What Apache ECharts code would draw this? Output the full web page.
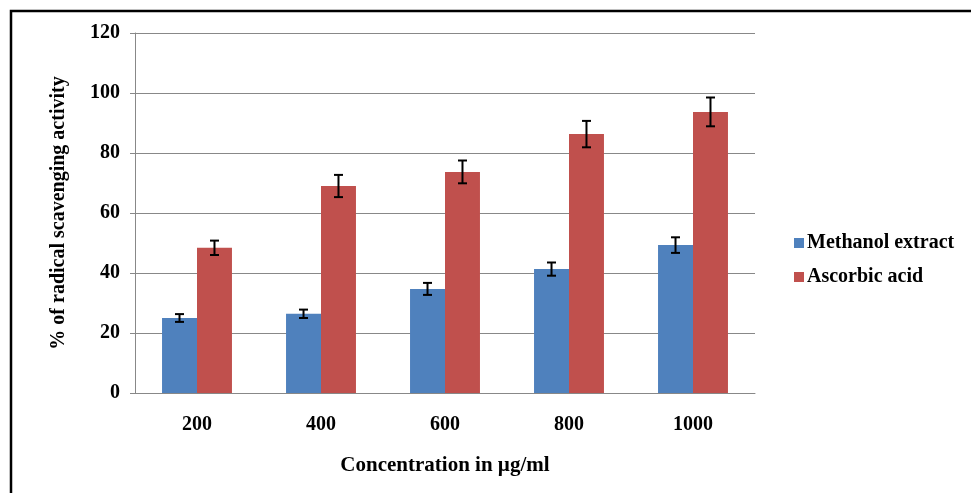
<!DOCTYPE html>
<html>
<head>
<meta charset="utf-8">
<script src="https://cdn.jsdelivr.net/npm/echarts@6/dist/echarts.min.js"></script>
<style>html,body{margin:0;padding:0;background:#fff;}#chart{width:971px;height:493px;}</style>
</head>
<body>
<div id="chart"></div>
<script>
var categories = ['200', '400', '600', '800', '1000'];
var methanolValues = [25.0, 26.4, 34.7, 41.3, 49.3];
var methanolErrors = [1.3, 1.4, 2.0, 2.2, 2.6];
var ascorbicValues = [48.4, 69.0, 73.7, 86.3, 93.7];
var ascorbicErrors = [2.4, 3.7, 3.8, 4.4, 4.8];
var seriesNames = ['Methanol extract', 'Ascorbic acid'];
var yTicks = [0, 20, 40, 60, 80, 100, 120];

var BAR_FRAC = 0.282;
var font = '"Liberation Serif", "Times New Roman", serif';

function errData(vals, errs) {
  return vals.map(function (v, i) { return [i, v - errs[i], v + errs[i]]; });
}
function errRender(sign) {
  return function (params, api) {
    var idx = api.value(0);
    var lo = api.coord([idx, api.value(1)]);
    var hi = api.coord([idx, api.value(2)]);
    var band = api.size([1, 0])[0];
    var x = lo[0] + sign * band * BAR_FRAC / 2;
    var cap = 4.5;
    var st = { stroke: '#000', lineWidth: 2 };
    return {
      type: 'group',
      children: [
        { type: 'line', shape: { x1: x, y1: lo[1], x2: x, y2: hi[1] }, style: st },
        { type: 'line', shape: { x1: x - cap, y1: lo[1], x2: x + cap, y2: lo[1] }, style: st },
        { type: 'line', shape: { x1: x - cap, y1: hi[1], x2: x + cap, y2: hi[1] }, style: st }
      ]
    };
  };
}

var chart = echarts.init(document.getElementById('chart'), null, { renderer: 'canvas' });
chart.setOption({
  backgroundColor: '#fff',
  animation: false,
  textStyle: { fontFamily: font },
  graphic: [{
    type: 'rect', shape: { x: 11, y: 11, width: 1100, height: 700 },
    style: { fill: 'none', stroke: '#000', lineWidth: 2.5 }, silent: true, z: 100
  }],
  grid: { left: 135, right: 216, top: 33, bottom: 100 },
  legend: {
    orient: 'vertical', left: 789, top: 228, itemWidth: 10, itemHeight: 10, itemGap: 14,
    icon: 'rect',
    data: seriesNames,
    textStyle: { fontFamily: font, fontWeight: 'bold', fontSize: 20, color: '#000', padding: [0, 0, 0, -2] }
  },
  xAxis: {
    type: 'category', data: categories,
    name: 'Concentration in µg/ml', nameLocation: 'middle', nameGap: 62,
    nameTextStyle: { fontFamily: font, fontWeight: 'bold', fontSize: 21, color: '#000' },
    axisLine: { lineStyle: { color: '#888', width: 1 } },
    axisTick: { show: false },
    axisLabel: { fontFamily: font, fontWeight: 'bold', fontSize: 20, color: '#000', margin: 22 }
  },
  yAxis: {
    type: 'value', min: yTicks[0], max: yTicks[yTicks.length - 1], interval: 20,
    name: '% of radical scavenging activity', nameLocation: 'middle', nameGap: 66,
    nameTextStyle: { fontFamily: font, fontWeight: 'bold', fontSize: 20, color: '#000' },
    axisLine: { show: true, lineStyle: { color: '#888', width: 1 } },
    axisTick: { show: true, length: 5, lineStyle: { color: '#888' } },
    splitLine: { lineStyle: { color: '#888', width: 1 } },
    axisLabel: { fontFamily: font, fontWeight: 'bold', fontSize: 20, color: '#000', margin: 15 }
  },
  series: [
    { name: seriesNames[0], type: 'bar', data: methanolValues, barWidth: (BAR_FRAC * 100) + '%', barGap: '0%', itemStyle: { color: '#4F81BD' } },
    { name: seriesNames[1], type: 'bar', data: ascorbicValues, barWidth: (BAR_FRAC * 100) + '%', barGap: '0%', itemStyle: { color: '#C0504D' } },
    { type: 'custom', renderItem: errRender(-1), data: errData(methanolValues, methanolErrors), encode: { x: 0, y: [1, 2] }, z: 10, silent: true },
    { type: 'custom', renderItem: errRender(1), data: errData(ascorbicValues, ascorbicErrors), encode: { x: 0, y: [1, 2] }, z: 10, silent: true }
  ]
});
</script>
</body>
</html>
